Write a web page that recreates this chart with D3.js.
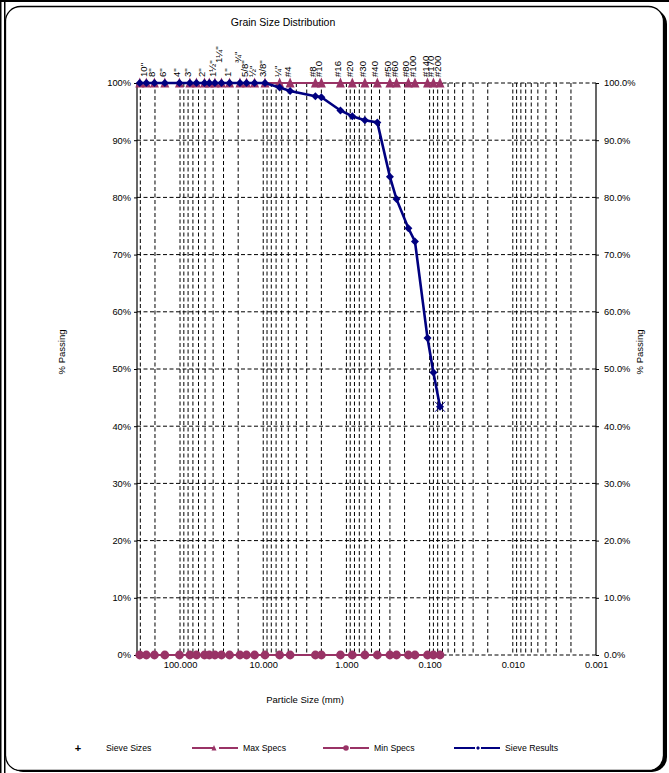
<!DOCTYPE html>
<html>
<head>
<meta charset="utf-8">
<script src="https://cdn.jsdelivr.net/npm/d3@7"></script>
<style>
    body { margin: 0; background: #fff; }
    svg { display: block; font-family: "Liberation Sans", Arial, sans-serif; }
    .grid line { stroke: #000; stroke-width: 1; stroke-dasharray: 4,2.5; }
</style>
</head>
<body>
<div id="chart"></div>
<script>
// sieve sizes (mm) and their labels (blank = unlabelled sieve)
const sieveLabels = ['', '10"', '8"', '6"', '4"', '3"', '', '2"', '', '1½"', '1¼"', '1"', '¾"', '5/8"', '½"', '3/8"', '¼"',
    '#4', '#8', '#10', '#16', '#20', '#30', '#40', '#50', '#60', '#80', '#100', '#140', '#170', '#200'];
const sieveSizes = [304.8, 254, 203.2, 152.4, 101.6, 76.2, 63.5, 50.8, 44.45, 38.1, 31.75, 25.4, 19.05, 15.875, 12.7, 9.525, 6.35,
    4.75, 2.36, 2.0, 1.18, 0.85, 0.6, 0.425, 0.3, 0.25, 0.18, 0.15, 0.106, 0.09, 0.075];
const sieveResults = [100, 100, 100, 100, 100, 100, 100, 100, 100, 100, 100, 100, 100, 100, 100, 100, 99.2,
    98.6, 97.7, 97.5, 95.2, 94.2, 93.5, 93.1, 83.6, 79.7, 74.6, 72.3, 55.4, 49.4, 43.4];
const maxSpecs = [100, 100, 100, 100, 100, 100, 100, 100, 100, 100, 100, 100, 100, 100, 100, 100, 100,
    100, 100, 100, 100, 100, 100, 100, 100, 100, 100, 100, 100, 100, 100];
const minSpecs = [0, 0, 0, 0, 0, 0, 0, 0, 0, 0, 0, 0, 0, 0, 0, 0, 0,
    0, 0, 0, 0, 0, 0, 0, 0, 0, 0, 0, 0, 0, 0];
const xTickValues = [100, 10, 1, 0.1, 0.01, 0.001];
const yTickValues = [0, 10, 20, 30, 40, 50, 60, 70, 80, 90, 100];
const legendItems = ['Sieve Sizes', 'Max Specs', 'Min Specs', 'Sieve Results'];

const width = 669, height = 773;
const plum = '#993366', navy = '#000080';

const svg = d3.select('#chart').append('svg')
    .attr('width', width)
    .attr('height', height);

// frame
svg.append('rect').attr('x', 0).attr('y', 0).attr('width', width).attr('height', 2).attr('fill', '#000');
svg.append('rect').attr('x', 0).attr('y', 0).attr('width', 1.5).attr('height', height).attr('fill', '#000');
svg.append('rect').attr('x', 4).attr('y', 0).attr('width', 1.5).attr('height', height).attr('fill', '#000');
svg.append('rect')
    .attr('x', 8).attr('y', 9).attr('width', 659).attr('height', 763)
    .attr('rx', 15).attr('fill', '#000');
svg.append('rect')
    .attr('x', 5.5).attr('y', 6.5).attr('width', 658).attr('height', 764)
    .attr('rx', 15).attr('fill', '#fff').attr('stroke', '#000').attr('stroke-width', 1.3);

const x = d3.scaleLog().domain([329, 0.001]).range([137, 596]);
const y = d3.scaleLinear().domain([0, 100]).range([655, 83]);

// log gridlines
const gridVals = [];
for (let k = -3; k <= 2; k++) {
    for (let m = 1; m <= 9; m++) {
        const v = m * Math.pow(10, k);
        if (v <= 329 && v > 0.001) gridVals.push(v);
    }
}

const grid = svg.append('g').attr('class', 'grid');
grid.selectAll('line.v')
    .data(gridVals)
    .enter().append('line')
    .attr('class', 'v')
    .attr('x1', d => x(d)).attr('x2', d => x(d))
    .attr('y1', y(100)).attr('y2', y(0));
grid.selectAll('line.h')
    .data(yTickValues)
    .enter().append('line')
    .attr('class', 'h')
    .attr('x1', x.range()[0]).attr('x2', x.range()[1])
    .attr('y1', d => y(d)).attr('y2', d => y(d));

// axes
const leftAxis = svg.append('g')
    .attr('transform', `translate(${x.range()[0]},0)`)
    .call(d3.axisLeft(y).tickValues(yTickValues).tickFormat(d => d + '%').tickSize(3).tickPadding(3));
const rightAxis = svg.append('g')
    .attr('transform', `translate(${x.range()[1]},0)`)
    .call(d3.axisRight(y).tickValues(yTickValues).tickFormat(d => d.toFixed(1) + '%').tickSize(3).tickPadding(5));
const bottomAxis = svg.append('g')
    .attr('transform', `translate(0,${y(0)})`)
    .call(d3.axisBottom(x).tickValues(xTickValues).tickFormat(d3.format('.3f')).tickSize(0).tickPadding(6));
bottomAxis.select('.domain').remove();

[leftAxis, rightAxis, bottomAxis].forEach(a => {
    a.selectAll('text').attr('font-size', 9.3).attr('fill', '#000')
        .attr('font-family', '"Liberation Sans", Arial, sans-serif');
    a.selectAll('.tick line').attr('stroke', '#000');
    a.selectAll('.domain').attr('stroke', '#000').attr('stroke-width', 1.2)
        .attr('d', `M0,${y(100)}V${y(0)}`);
});

// titles
svg.append('text').attr('x', 283).attr('y', 26).attr('text-anchor', 'middle')
    .attr('font-size', 10.5).text('Grain Size Distribution');
svg.append('text').attr('x', 305).attr('y', 703).attr('text-anchor', 'middle')
    .attr('font-size', 9.5).text('Particle Size (mm)');
svg.append('text').attr('transform', 'translate(65,352) rotate(-90)').attr('text-anchor', 'middle')
    .attr('font-size', 9.5).text('% Passing');
svg.append('text').attr('transform', 'translate(643,352) rotate(-90)').attr('text-anchor', 'middle')
    .attr('font-size', 9.5).text('% Passing');

// sieve labels along the top
const raised = ['1¼"', '¾"'];
svg.append('g').selectAll('text')
    .data(sieveSizes)
    .enter().append('text')
    .attr('transform', (d, i) => {
        const ty = raised.includes(sieveLabels[i]) ? 63 : 77;
        return `translate(${x(d) + 1},${ty}) rotate(-90)`;
    })
    .attr('font-size', 9.6)
    .text((d, i) => sieveLabels[i]);

const diamond = r => `M0,${-r}L${r},0L0,${r}L${-r},0Z`;
const triangle = (w, up, down) => `M0,${-up}L${w},${down}L${-w},${down}Z`;

const line = vals => d3.line()
    .x((d, i) => x(sieveSizes[i]))
    .y(d => y(d))(vals);

// max specs
svg.append('path').attr('d', line(maxSpecs)).attr('fill', 'none')
    .attr('stroke', plum).attr('stroke-width', 2);
svg.append('g').selectAll('path')
    .data(maxSpecs)
    .enter().append('path')
    .attr('transform', (d, i) => `translate(${x(sieveSizes[i])},${y(d)})`)
    .attr('d', triangle(4.5, 5.5, 4.5))
    .attr('fill', plum);

// min specs
svg.append('path').attr('d', line(minSpecs)).attr('fill', 'none')
    .attr('stroke', plum).attr('stroke-width', 2);
svg.append('g').selectAll('circle')
    .data(minSpecs)
    .enter().append('circle')
    .attr('cx', (d, i) => x(sieveSizes[i]))
    .attr('cy', d => y(d))
    .attr('r', 4.4)
    .attr('fill', plum);

// sieve results
svg.append('path').attr('d', line(sieveResults)).attr('fill', 'none')
    .attr('stroke', navy).attr('stroke-width', 2.6);
svg.append('g').selectAll('path')
    .data(sieveResults)
    .enter().append('path')
    .attr('transform', (d, i) => `translate(${x(sieveSizes[i])},${y(d)})`)
    .attr('d', diamond(4))
    .attr('fill', navy);

// cross on the last result point
const last = sieveResults.length - 1;
svg.append('path')
    .attr('transform', `translate(${x(sieveSizes[last])},${y(sieveResults[last])})`)
    .attr('d', 'M-5,-5L5,5M-5,5L5,-5')
    .attr('stroke', navy).attr('stroke-width', 1);

// legend
const legend = svg.append('g').attr('font-size', 8.7);
const lx = [78, 192, 323, 454];
legend.append('text').attr('x', lx[0]).attr('y', 752).attr('text-anchor', 'middle')
    .attr('font-size', 11).attr('font-weight', 'bold').text('+');
legend.append('text').attr('x', 106).attr('y', 751).text(legendItems[0]);
[1, 2, 3].forEach(k => {
    const col = k === 3 ? navy : plum;
    const g = legend.append('g').attr('transform', `translate(${lx[k]},748)`);
    g.append('line').attr('x1', 0).attr('x2', 21).attr('stroke', col).attr('stroke-width', 2);
    g.append('line').attr('x1', 27).attr('x2', 46).attr('stroke', col).attr('stroke-width', 2);
    if (k === 1) g.append('path').attr('transform', 'translate(22,0)').attr('d', triangle(2.5, 3, 2.5)).attr('fill', col);
    if (k === 2) g.append('circle').attr('cx', 23).attr('r', 2.8).attr('fill', col);
    if (k === 3) g.append('path').attr('transform', 'translate(24,0)').attr('d', diamond(2)).attr('fill', col);
    legend.append('text').attr('x', lx[k] + 51).attr('y', 751).text(legendItems[k]);
});
</script>
</body>
</html>
